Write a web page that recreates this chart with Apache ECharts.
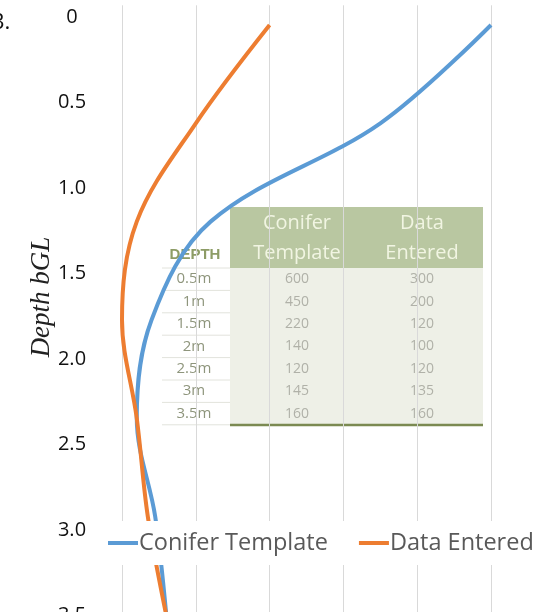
<!DOCTYPE html>
<html>
<head>
<meta charset="utf-8">
<script src="https://cdn.jsdelivr.net/npm/echarts@6/dist/echarts.min.js"></script>
<style>
html,body{margin:0;padding:0;background:#fff;overflow:hidden;}
#chart{width:547px;height:660px;}
</style>
</head>
<body>
<div id="chart"></div>
<script>
// ---- data ----
const depths = [0.5, 1, 1.5, 2, 2.5, 3, 3.5];
const depthLabels = ['0.5m', '1m', '1.5m', '2m', '2.5m', '3m', '3.5m'];
const coniferTemplate = [600, 450, 220, 140, 120, 145, 160];
const dataEntered = [300, 200, 120, 100, 120, 135, 160];
const yTickLabels = ['0', '0.5', '1.0', '1.5', '2.0', '2.5', '3.0', '3.5'];
const seriesNames = ['Conifer Template', 'Data Entered'];
const tableHeaders = ['DEPTH', 'Conifer\nTemplate', 'Data\nEntered'];

// ---- build ----
const blue = '#5b9bd5', orange = '#ed7d31';
const font = '"Open Sans", "Noto Sans", sans-serif';

const conPts = depths.map((d, i) => [coniferTemplate[i], d]);
const datPts = depths.map((d, i) => [dataEntered[i], d]);

// table overlay (drawn behind grid lines and curves)
const tbl = [];
const Z = -10;
const rowTop = 268, rowH = 22.4;
tbl.push({type:'rect', z:Z, shape:{x:230, y:207, width:253, height:61}, style:{fill:'#b9c7a1'}});
tbl.push({type:'rect', z:Z, shape:{x:230, y:268, width:253, height:157}, style:{fill:'#eef0e7'}});
for (let i = 0; i <= depths.length; i++) {
  const y = rowTop + i * rowH;
  tbl.push({type:'line', z:Z, shape:{x1:162, y1:y, x2:230, y2:y}, style:{stroke:'#e2e3dc', lineWidth:1}});
}
tbl.push({type:'line', z:Z, shape:{x1:230, y1:425, x2:483, y2:425}, style:{stroke:'#7b8a52', lineWidth:2.5}});
tbl.push({type:'text', z:Z, style:{text:tableHeaders[0], x:195, y:255, align:'center', verticalAlign:'middle',
  font:'bold 15px "Liberation Sans", sans-serif', fill:'#8d9c66'}});
const hdr1 = tableHeaders[1].split('\n'), hdr2 = tableHeaders[2].split('\n');
[[hdr1, 297], [hdr2, 422]].forEach(([h, x]) => {
  h.forEach((t, k) => {
    tbl.push({type:'text', z:Z, style:{text:t, x:x, y:223 + k * 30, align:'center', verticalAlign:'middle',
      font:'20px ' + font, fill:'#f1f5e2'}});
  });
});
depths.forEach((d, i) => {
  const y = rowTop + rowH * (i + 0.5);
  tbl.push({type:'text', z:Z, style:{text:depthLabels[i], x:194, y:y, align:'center', verticalAlign:'middle',
    font:'15px ' + font, fill:'#8e957c'}});
  tbl.push({type:'text', z:Z, style:{text:String(coniferTemplate[i]), x:297, y:y, align:'center', verticalAlign:'middle',
    font:'14px ' + font, fill:'#b0b1a8'}});
  tbl.push({type:'text', z:Z, style:{text:String(dataEntered[i]), x:422, y:y, align:'center', verticalAlign:'middle',
    font:'14px ' + font, fill:'#b0b1a8'}});
});

const chart = echarts.init(document.getElementById('chart'), null, {renderer:'canvas'});
chart.setOption({
  animation: false,
  backgroundColor: '#fff',
  grid: [
    {left:122, right:56, top:5.3, height:629.3},
    {left:110, width:10, top:17, height:598.5}
  ],
  xAxis: [
    {gridIndex:0, type:'value', min:100, max:600, interval:100,
     axisLine:{show:false}, axisTick:{show:false}, axisLabel:{show:false},
     splitLine:{show:true, lineStyle:{color:'#d9d9d9', width:1}}},
    {gridIndex:1, type:'value', show:false}
  ],
  yAxis: [
    {gridIndex:0, type:'value', inverse:true, min:0.4, max:3.6,
     axisLine:{show:false}, axisTick:{show:false}, axisLabel:{show:false}, splitLine:{show:false}},
    {gridIndex:1, type:'value', inverse:true, min:0, max:3.5, interval:0.5,
     axisLine:{show:false}, axisTick:{show:false}, splitLine:{show:false},
     axisLabel:{show:true, margin:38, align:'center', fontSize:20, fontFamily:font, color:'#111',
       formatter:(v, idx) => yTickLabels[idx]}}
  ],
  legend: {
    left:100, top:521, padding:[10, 8], itemGap:31, itemWidth:30, itemHeight:4,
    backgroundColor:'#fff',
    icon:'rect',
    data: seriesNames,
    textStyle:{fontSize:23.5, fontFamily:font, color:'#595959', padding:[0,0,0,-4]}
  },
  series: [
    {name:seriesNames[0], type:'line', data:conPts, smooth:0.35, symbol:'none', clip:false,
     lineStyle:{color:blue, width:4}, itemStyle:{color:blue}},
    {name:seriesNames[1], type:'line', data:datPts, smooth:0.35, symbol:'none', clip:false,
     lineStyle:{color:orange, width:4}, itemStyle:{color:orange}}
  ],
  graphic: [
    {type:'text', z:5, style:{text:'3.', x:-8, y:12, font:'22px ' + font, fill:'#111'}},
    {type:'text', z:5, rotation:Math.PI/2, x:42, y:297,
     style:{text:'Depth bGL', align:'center', verticalAlign:'middle',
       font:'italic 27px "Liberation Serif", "DejaVu Serif", serif', fill:'#222'}},
    {type:'group', z:Z, children: tbl}
  ]
});
</script>
</body>
</html>
